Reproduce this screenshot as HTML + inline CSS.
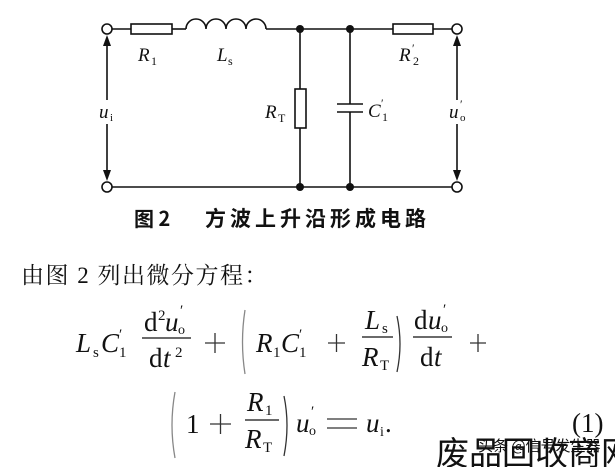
<!DOCTYPE html>
<html><head><meta charset="utf-8"><style>
html,body{margin:0;padding:0;background:#fff;}
body{width:615px;height:467px;overflow:hidden;position:relative;}
svg{position:absolute;left:0;top:0;}
text{font-family:"Liberation Serif","Noto Serif CJK SC",serif;fill:#111;}
.i{font-style:italic;}
</style></head><body>
<svg width="615" height="467" viewBox="0 0 615 467">
<g stroke="#111" stroke-width="1.6" fill="none">
<line x1="112" y1="29" x2="131" y2="29"/>
<rect x="131" y="24" width="41" height="10"/>
<line x1="172" y1="29" x2="186" y2="29"/>
<path d="M186 29 a10 10 0 0 1 20 0 a10 10 0 0 1 20 0 a10 10 0 0 1 20 0 a10 10 0 0 1 20 0"/>
<line x1="266" y1="29" x2="393" y2="29"/>
<rect x="393" y="24" width="40" height="10"/>
<line x1="433" y1="29" x2="452" y2="29"/>
<line x1="112" y1="187" x2="452" y2="187"/>
<line x1="300" y1="29" x2="300" y2="89"/>
<rect x="295" y="89" width="11" height="39"/>
<line x1="300" y1="128" x2="300" y2="187"/>
<line x1="350" y1="29" x2="350" y2="104"/>
<line x1="337" y1="104" x2="363" y2="104"/>
<line x1="337" y1="112" x2="363" y2="112"/>
<line x1="350" y1="112" x2="350" y2="187"/>
<circle cx="107" cy="29" r="5"/><circle cx="107" cy="187" r="5"/>
<circle cx="457" cy="29" r="5"/><circle cx="457" cy="187" r="5"/>
<line x1="107" y1="44" x2="107" y2="100"/><line x1="107" y1="124" x2="107" y2="172"/>
<line x1="457" y1="44" x2="457" y2="100"/><line x1="457" y1="124" x2="457" y2="172"/>
</g>
<g fill="#111">
<circle cx="300" cy="29" r="4"/><circle cx="350" cy="29" r="4"/>
<circle cx="300" cy="187" r="4"/><circle cx="350" cy="187" r="4"/>
<polygon points="107,35 103,46 111,46"/><polygon points="107,181 103,170 111,170"/>
<polygon points="457,35 453,46 461,46"/><polygon points="457,181 453,170 461,170"/>
</g>
<text x="138" y="61" font-size="19" class="i">R</text><text x="151" y="65" font-size="12">1</text>
<text x="217" y="61" font-size="19" class="i">L</text><text x="228" y="65" font-size="12">s</text>
<text x="399" y="61" font-size="19" class="i">R</text><text x="412" y="52" font-size="12">′</text><text x="413" y="65" font-size="12">2</text>
<text x="265" y="118" font-size="19" class="i">R</text><text x="278" y="122" font-size="12">T</text>
<text x="368" y="117" font-size="19" class="i">C</text><text x="381" y="107" font-size="12">′</text><text x="382" y="121" font-size="12">1</text>
<text x="99" y="118" font-size="19" class="i">u</text><text x="110" y="121" font-size="11">i</text>
<text x="449" y="118" font-size="19" class="i">u</text><text x="460" y="108" font-size="12">′</text><text x="460" y="121" font-size="11">o</text>
<text x="134" y="226" font-size="20" font-weight="bold" style="font-family:'Noto Sans CJK SC',sans-serif">图 2</text>
<text x="205" y="226" font-size="21" font-weight="bold" letter-spacing="4" style="font-family:'Noto Sans CJK SC',sans-serif">方波上升沿形成电路</text>
<text x="21" y="283" font-size="23" letter-spacing="1.5" style="font-family:'Liberation Serif','Noto Serif CJK SC',serif">由图 2 列出微分方程：</text>
<g font-size="27">
<text x="76" y="352" class="i">L</text><text x="93" y="357" font-size="15">s</text>
<text x="101" y="352" class="i">C</text><text x="119" y="339" font-size="15">′</text><text x="119" y="357" font-size="15">1</text>
<line x1="142" y1="338" x2="191" y2="338" stroke="#111" stroke-width="1.2"/>
<text x="144" y="331">d</text><text x="158" y="320" font-size="15">2</text><text x="165" y="331" class="i">u</text><text x="180" y="315" font-size="15">′</text><text x="178" y="334" font-size="14">o</text>
<text x="149" y="367">d</text><text x="163" y="367" class="i">t</text><text x="175" y="357" font-size="15">2</text>
<path d="M205 343h20M215 333v20" stroke="#333" stroke-width="1.3"/>
<path d="M245 310 Q240 342 245 374" stroke="#888" stroke-width="1.3" fill="none"/>
<text x="256" y="352" class="i">R</text><text x="273" y="357" font-size="15">1</text>
<text x="281" y="352" class="i">C</text><text x="299" y="339" font-size="15">′</text><text x="299" y="357" font-size="15">1</text>
<path d="M328 343h17M336.5 334v18" stroke="#333" stroke-width="1.3"/>
<line x1="362" y1="337" x2="393" y2="337" stroke="#111" stroke-width="1.2"/>
<text x="365" y="329" class="i">L</text><text x="382" y="333" font-size="15">s</text>
<text x="362" y="366" class="i">R</text><text x="380" y="370" font-size="15">T</text>
<path d="M397 316 Q403 344 397 372" stroke="#333" stroke-width="1.3" fill="none"/>
<line x1="413" y1="337" x2="452" y2="337" stroke="#111" stroke-width="1.2"/>
<text x="414" y="329">d</text><text x="428" y="329" class="i">u</text><text x="443" y="314" font-size="15">′</text><text x="441" y="332" font-size="14">o</text>
<text x="420" y="366">d</text><text x="434" y="366" class="i">t</text>
<path d="M470 343h16M478 334v18" stroke="#333" stroke-width="1.3"/>
</g>
<g font-size="27">
<path d="M175 392 Q169 425 175 458" stroke="#888" stroke-width="1.3" fill="none"/>
<text x="186" y="433">1</text>
<path d="M210 424h21M220.5 414v20" stroke="#333" stroke-width="1.3"/>
<line x1="245" y1="420" x2="279" y2="420" stroke="#111" stroke-width="1.2"/>
<text x="247" y="411" class="i">R</text><text x="265" y="415" font-size="15">1</text>
<text x="245" y="448" class="i">R</text><text x="263" y="452" font-size="15">T</text>
<path d="M284 396 Q290 425 284 456" stroke="#333" stroke-width="1.3" fill="none"/>
<text x="296" y="432" class="i">u</text><text x="311" y="416" font-size="15">′</text><text x="309" y="435" font-size="14">o</text>
<path d="M327 419h30M327 428h30" stroke="#333" stroke-width="1.3"/>
<text x="366" y="432" class="i">u</text><text x="380" y="436" font-size="14">i</text><text x="385" y="432">.</text>
<text x="572" y="432">(1)</text>
</g>
<text x="436" y="465" font-size="33" fill="#7ab8ea" style="font-family:'Noto Sans CJK SC',sans-serif">废品回收商网</text>
<text x="478" y="451" font-size="15" fill="#333" style="font-family:'Noto Sans CJK SC',sans-serif">头条 @信号发生器</text>
</svg>
</body></html>
